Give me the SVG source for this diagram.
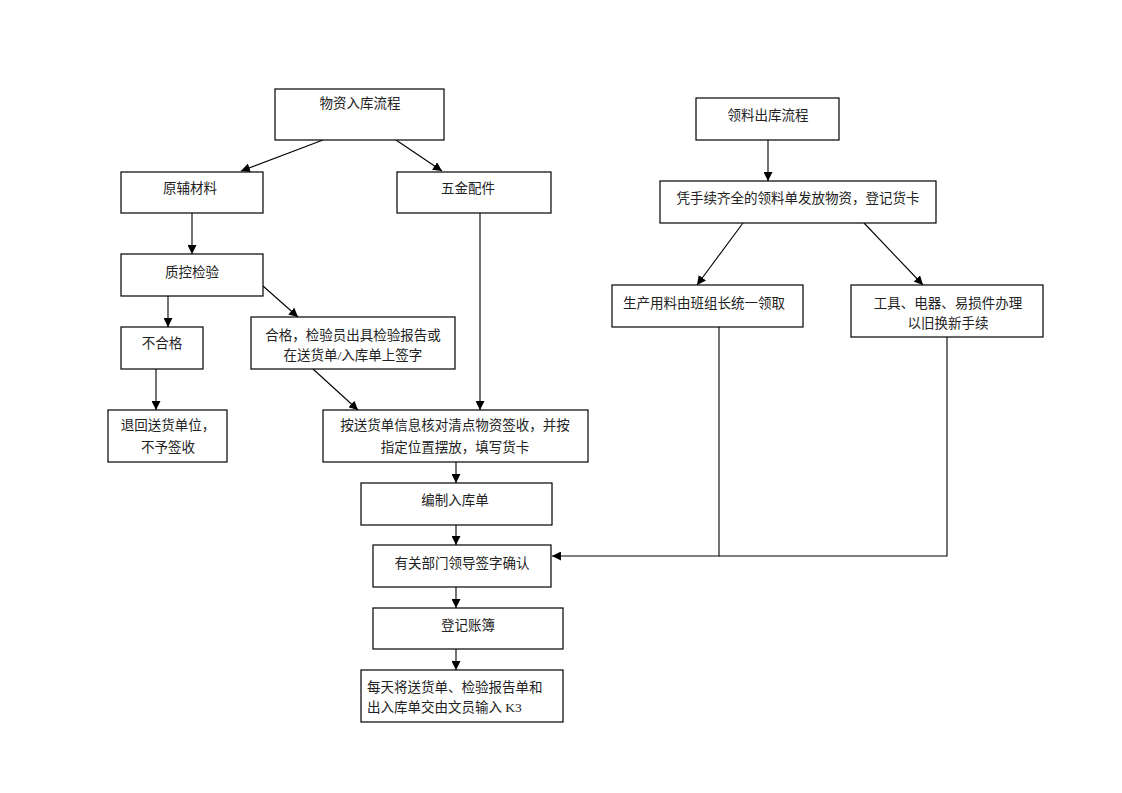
<svg xmlns="http://www.w3.org/2000/svg" width="1122" height="793" viewBox="0 0 1122 793">
<style>
.box{fill:#fff;stroke:#000;stroke-width:1.2}
.t{font-family:"Liberation Serif","Noto Sans CJK SC",serif;font-size:13.5px;fill:#222;text-anchor:middle}
.l{text-anchor:start}
.c{fill:none;stroke:#000;stroke-width:1.1}
</style>
<defs>
<marker id="a" viewBox="0 0 10 10" refX="10" refY="5" markerWidth="9" markerHeight="9" markerUnits="userSpaceOnUse" orient="auto">
<path d="M0,0 L10,5 L0,10 z" fill="#000"/>
</marker>
</defs>
<rect width="1122" height="793" fill="#fff"/>
<g id="connectors">
<line class="c" x1="323" y1="140" x2="241" y2="171" marker-end="url(#a)"/>
<line class="c" x1="396" y1="140" x2="442" y2="171" marker-end="url(#a)"/>
<line class="c" x1="192" y1="213" x2="192" y2="254" marker-end="url(#a)"/>
<line class="c" x1="168" y1="296" x2="168" y2="327" marker-end="url(#a)"/>
<line class="c" x1="263" y1="286" x2="298" y2="317" marker-end="url(#a)"/>
<line class="c" x1="156" y1="369" x2="156" y2="410" marker-end="url(#a)"/>
<line class="c" x1="313" y1="369" x2="358" y2="410" marker-end="url(#a)"/>
<line class="c" x1="480" y1="213" x2="480" y2="410" marker-end="url(#a)"/>
<line class="c" x1="456" y1="462" x2="456" y2="483" marker-end="url(#a)"/>
<line class="c" x1="456" y1="525" x2="456" y2="545" marker-end="url(#a)"/>
<line class="c" x1="456" y1="587" x2="456" y2="608" marker-end="url(#a)"/>
<line class="c" x1="456" y1="649" x2="456" y2="670" marker-end="url(#a)"/>
<line class="c" x1="768" y1="140" x2="768" y2="181" marker-end="url(#a)"/>
<line class="c" x1="743" y1="223" x2="697" y2="285" marker-end="url(#a)"/>
<line class="c" x1="864" y1="223" x2="923" y2="285" marker-end="url(#a)"/>
<polyline class="c" points="719,327 719,556 552,556" marker-end="url(#a)"/>
<polyline class="c" points="947,337 947,556 719,556"/>
</g>
<g id="n1"><rect class="box" x="275" y="89" width="169" height="51"/><text class="t" x="360" y="108">物资入库流程</text></g>
<g id="n2"><rect class="box" x="121" y="172" width="142" height="41"/><text class="t" x="190" y="193">原辅材料</text></g>
<g id="n3"><rect class="box" x="397" y="172" width="154" height="41"/><text class="t" x="468" y="193">五金配件</text></g>
<g id="n4"><rect class="box" x="121" y="254" width="142" height="42"/><text class="t" x="192" y="277">质控检验</text></g>
<g id="n5"><rect class="box" x="121" y="327" width="82" height="42"/><text class="t" x="162" y="348">不合格</text></g>
<g id="n6"><rect class="box" x="251" y="317" width="204" height="52"/><text class="t" x="353" y="340">合格，检验员出具检验报告或</text><text class="t" x="353" y="360">在送货单/入库单上签字</text></g>
<g id="n7"><rect class="box" x="108" y="410" width="119" height="52"/><text class="t" x="168" y="430">退回送货单位，</text><text class="t" x="168" y="452">不予签收</text></g>
<g id="n8"><rect class="box" x="323" y="410" width="265" height="52"/><text class="t" x="455" y="430">按送货单信息核对清点物资签收，并按</text><text class="t" x="455" y="452">指定位置摆放，填写货卡</text></g>
<g id="n9"><rect class="box" x="361" y="483" width="191" height="42"/><text class="t" x="455" y="505">编制入库单</text></g>
<g id="n10"><rect class="box" x="373" y="545" width="178" height="42"/><text class="t" x="462" y="568">有关部门领导签字确认</text></g>
<g id="n11"><rect class="box" x="373" y="608" width="190" height="41"/><text class="t" x="468" y="630">登记账簿</text></g>
<g id="n12"><rect class="box" x="361" y="670" width="202" height="52"/><text class="t l" x="367" y="692">每天将送货单、检验报告单和</text><text class="t l" x="367" y="712">出入库单交由文员输入 K3</text></g>
<g id="n13"><rect class="box" x="696" y="98" width="143" height="42"/><text class="t" x="768" y="120">领料出库流程</text></g>
<g id="n14"><rect class="box" x="660" y="181" width="276" height="42"/><text class="t" x="798" y="203">凭手续齐全的领料单发放物资，登记货卡</text></g>
<g id="n15"><rect class="box" x="612" y="285" width="191" height="42"/><text class="t" x="704" y="308">生产用料由班组长统一领取</text></g>
<g id="n16"><rect class="box" x="851" y="285" width="192" height="52"/><text class="t" x="948" y="308">工具、电器、易损件办理</text><text class="t" x="948" y="328">以旧换新手续</text></g>
</svg>
